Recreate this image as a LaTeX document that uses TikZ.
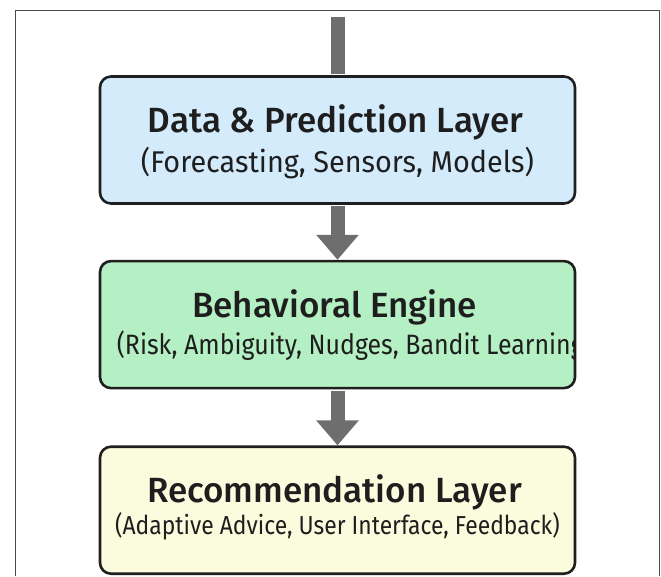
\documentclass[tikz,border=0pt]{standalone}
\usepackage{fontspec}
\setmainfont{Fira Sans}[BoldFont={Fira Sans Medium}]
\usetikzlibrary{positioning,arrows.meta}

\definecolor{predblue}{HTML}{D3EBFB}
\definecolor{behgreen}{HTML}{B4F0C3}
\definecolor{recyellow}{HTML}{FBFBDD}
\definecolor{boxline}{HTML}{1F1F1F}
\definecolor{flowgray}{HTML}{6E6E6E}
\definecolor{framegray}{HTML}{4A4A4A}
\definecolor{inkdark}{HTML}{1E1E1E}

\tikzset{
  layer/.style={draw=boxline, line width=2.6pt, rounded corners=11pt,
    minimum width=475pt, minimum height=127pt, inner sep=0pt},
  title/.style={text=inkdark, font=\fontsize{35}{40}\selectfont\bfseries, inner sep=0pt, anchor=base},
  sub/.style={text=inkdark, inner sep=0pt, anchor=base},
  flow/.style={draw=flowgray, line width=14pt,
    -{Triangle[width=41pt,length=25pt]}, shorten <=1.3pt},
}

\begin{document}
\begin{tikzpicture}[x=1pt,y=-1pt]
  \useasboundingbox (0,0) rectangle (661,576);

  % outer frame, open at the bottom
  \draw [framegray, line width=1pt] (15,576) -- (15,10) -- (659,10) -- (659,576);

  % the three layers
  \node [layer, fill=predblue] (pred) at (337.5,140) {};
  \node [layer, fill=behgreen, below=55pt of pred] (beh) {};
  \node [layer, fill=recyellow, below=56pt of beh] (rec) {};

  \node [title] (predtitle) at ([xshift=-2pt,yshift=8pt]pred.center) {Data \& Prediction Layer};
  \node [sub, font=\fontsize{30}{34}\selectfont] (predsub) at ([yshift=-32pt]pred.center)
    {\scalebox{0.96}[1]{(Forecasting, Sensors, Models)}};

  \node [title] (behtitle) at ([xshift=-3pt,yshift=7pt]beh.center) {Behavioral Engine};
  \begin{scope}
    \clip ([xshift=1.3pt]beh.south west) rectangle ([xshift=-1.3pt]beh.north east);
    \node [sub, anchor=base west, font=\fontsize{28}{32}\selectfont] (behsub)
      at ([xshift=18pt,yshift=-30pt]beh.center -| beh.west)
      {\scalebox{0.89}[1]{(Risk, Ambiguity, Nudges, Bandit Learning)}};
  \end{scope}

  \node [title] (rectitle) at ([xshift=-3pt,yshift=7.5pt]rec.center) {Recommendation Layer};
  \node [sub, font=\fontsize{26}{30}\selectfont] (recsub) at ([yshift=-24.5pt]rec.center)
    {\scalebox{0.88}[1]{(Adaptive Advice, User Interface, Feedback)}};

  % arrows between layers
  \coordinate (feed) at (337.5,17);
  \draw [draw=flowgray, line width=14pt, shorten >=1.3pt] (feed) -- (pred.north);
  \draw [flow] (pred.south) -- (beh.north);
  \draw [flow] (beh.south) -- (rec.north);
\end{tikzpicture}
\end{document}
